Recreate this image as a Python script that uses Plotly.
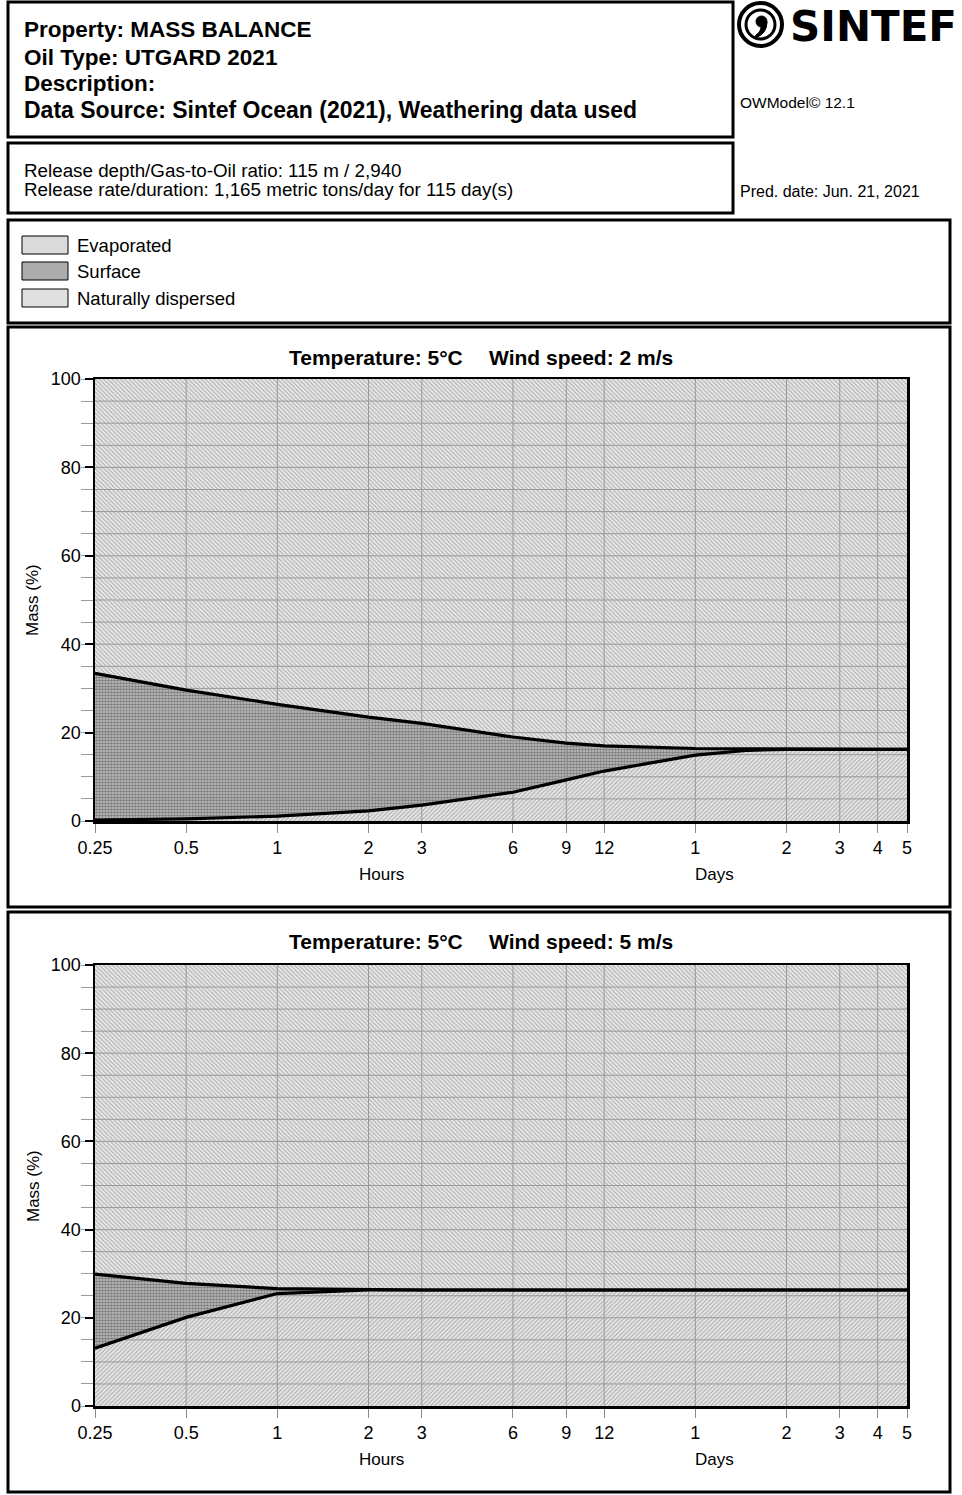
import math
import plotly.graph_objects as go

W, H = 962, 1495
FONT = "Liberation Sans, Arial, sans-serif"

# ---------------- data ----------------
time_hours = [0.25, 0.5, 1, 2, 3, 6, 9, 12, 24, 36, 48, 72, 96, 120]
x_tickvals = [0.25, 0.5, 1, 2, 3, 6, 9, 12, 24, 48, 72, 96, 120]
x_ticktext = ["0.25", "0.5", "1", "2", "3", "6", "9", "12", "1", "2", "3", "4", "5"]
y_tickvals = [0, 20, 40, 60, 80, 100]

# Temperature 5 C, wind 2 m/s
evaporated_w2 = [0.2, 0.5, 1.1, 2.3, 3.6, 6.5, 9.3, 11.3, 14.9, 16.0, 16.2, 16.2, 16.2, 16.2]
surface_w2 = [33.2, 29.1, 25.3, 21.2, 18.5, 12.5, 8.3, 5.7, 1.5, 0.3, 0.0, 0.0, 0.0, 0.0]
# Temperature 5 C, wind 5 m/s
evaporated_w5 = [13.1, 20.1, 25.5, 26.3, 26.3, 26.3, 26.3, 26.3, 26.3, 26.3, 26.3, 26.3, 26.3, 26.3]
surface_w5 = [16.8, 7.7, 1.1, 0.0, 0.0, 0.0, 0.0, 0.0, 0.0, 0.0, 0.0, 0.0, 0.0, 0.0]

series_names = ["Evaporated", "Surface", "Naturally dispersed"]
chart_titles = [("Temperature: 5°C", "Wind speed: 2 m/s"), ("Temperature: 5°C", "Wind speed: 5 m/s")]


def px(x):
    return x / W


def py(y):
    return 1 - y / H


fig = go.Figure()

pat_evap = dict(shape="/", size=3, solidity=0.3, fgcolor="#a4a4a4", bgcolor="#e6e6e6")
pat_surf = dict(shape=".", size=3, solidity=0.6, fgcolor="#7c7c7c", bgcolor="#c8c8c8")
pat_disp = dict(shape="\\", size=3, solidity=0.3, fgcolor="#a4a4a4", bgcolor="#e8e8e8")

panels = [("x", "y", evaporated_w2, surface_w2), ("x2", "y2", evaporated_w5, surface_w5)]
for xa, ya, evap, surf in panels:
    disp = [100 - e - s for e, s in zip(evap, surf)]
    for name, vals, pat in zip(series_names, [evap, surf, disp], [pat_evap, pat_surf, pat_disp]):
        fig.add_trace(go.Scatter(
            x=time_hours, y=vals, name=name, stackgroup="s" + xa, mode="lines",
            line=dict(width=0, color="rgba(0,0,0,0)"), fillpattern=pat,
            fillcolor=pat["bgcolor"], xaxis=xa, yaxis=ya, showlegend=False, hoverinfo="skip"))
    # grid lines drawn above the fills
    gx, gy = [], []
    for v in x_tickvals[1:-1]:
        gx += [v, v, None]
        gy += [0, 100, None]
    for v in range(5, 100, 5):
        gx += [x_tickvals[0], x_tickvals[-1], None]
        gy += [v, v, None]
    fig.add_trace(go.Scatter(x=gx, y=gy, mode="lines", line=dict(color="#999999", width=1),
                             xaxis=xa, yaxis=ya, showlegend=False, hoverinfo="skip"))
    # boundary lines
    upper = [e + s for e, s in zip(evap, surf)]
    for vals in (evap, upper):
        fig.add_trace(go.Scatter(x=time_hours, y=vals, mode="lines",
                                 line=dict(color="black", width=3.2),
                                 xaxis=xa, yaxis=ya, showlegend=False, hoverinfo="skip"))

xrange_log = [math.log10(x_tickvals[0]), math.log10(x_tickvals[-1])]


def xaxis_cfg(anchor):
    return dict(type="log", range=xrange_log, domain=[px(95), px(907)], anchor=anchor,
                tickmode="array", tickvals=x_tickvals, ticktext=x_ticktext,
                ticks="outside", ticklen=9, tickcolor="#8c8c8c", tickwidth=1,
                showgrid=False, zeroline=False, showline=True, linecolor="black", linewidth=2.5,
                mirror=True, layer="above traces", automargin=False,
                tickfont=dict(size=18, color="black", family=FONT))


def yaxis_cfg(domain, anchor):
    return dict(range=[0, 100], domain=domain, anchor=anchor, tickmode="array", tickvals=y_tickvals,
                ticks="outside", ticklen=8, tickwidth=2, tickcolor="black",
                minor=dict(dtick=5, ticks="outside", ticklen=12, tickcolor="#9c9c9c", tickwidth=1,
                           showgrid=False),
                showgrid=False, zeroline=False, showline=True, linecolor="black", linewidth=2.5,
                mirror=True, layer="above traces", automargin=False,
                tickfont=dict(size=18, color="black", family=FONT))


fig.update_layout(
    template="none",
    width=W, height=H, autosize=False,
    margin=dict(l=0, r=0, t=0, b=0, pad=0, autoexpand=False),
    paper_bgcolor="white", plot_bgcolor="white",
    font=dict(family=FONT, color="black"),
    xaxis=xaxis_cfg("y"),
    yaxis=yaxis_cfg([py(821), py(379)], "x"),
    xaxis2=xaxis_cfg("y2"),
    yaxis2=yaxis_cfg([py(1406), py(965)], "x2"),
)

shapes = []


def box(x0, y0, x1, y1, lw=3, fill="rgba(0,0,0,0)"):
    shapes.append(dict(type="rect", xref="paper", yref="paper", x0=px(x0), x1=px(x1),
                       y0=py(y1), y1=py(y0), line=dict(color="black", width=lw), fillcolor=fill))


box(8, 2, 733, 137)
box(8, 143, 733, 213)
box(8, 220, 950, 323)
box(8, 327, 950, 907)
box(8, 912, 950, 1492)

# legend swatches
legend_cols = ["#dadada", "#acacac", "#e0e0e0"]
legend_rows = [245, 271, 298]
for c, yc in zip(legend_cols, legend_rows):
    box(22, yc - 9, 68, yc + 9, lw=1, fill=c)

# logo
shapes.append(dict(type="circle", xref="paper", yref="paper", x0=px(739), x1=px(782),
                   y0=py(46), y1=py(3), line=dict(color="black", width=4)))
shapes.append(dict(type="circle", xref="paper", yref="paper", x0=px(746), x1=px(775),
                   y0=py(39), y1=py(10), line=dict(color="black", width=3)))
shapes.append(dict(type="circle", xref="paper", yref="paper", x0=px(756), x1=px(767),
                   y0=py(27), y1=py(16), line=dict(color="black", width=1), fillcolor="black"))
shapes.append(dict(type="path", xref="paper", yref="paper",
                   path="M %f %f Q %f %f %f %f L %f %f Q %f %f %f %f Z" % (
                       px(767), py(22), px(767), py(34), px(755), py(38),
                       px(756), py(35), px(762), py(31), px(761), py(24)),
                   line=dict(color="black", width=1), fillcolor="black"))
fig.update_layout(shapes=shapes)

ann = []


def text(x, y, s, size, bold=False, anchor="left", family=FONT, angle=0):
    ann.append(dict(x=px(x), y=py(y), xref="paper", yref="paper", text=s, showarrow=False,
                    xanchor=anchor, yanchor="middle", textangle=angle,
                    font=dict(size=size, family=family, color="black",
                              weight="bold" if bold else "normal")))


text(22, 30, "Property: MASS BALANCE", 22.5, True)
text(22, 57, "Oil Type: UTGARD 2021", 22.5, True)
text(22, 83, "Description:", 22.5, True)
text(22, 110, "Data Source: Sintef Ocean (2021), Weathering data used", 23, True)
text(22, 170, "Release depth/Gas-to-Oil ratio: 115 m / 2,940", 18.8)
text(22, 189, "Release rate/duration: 1,165 metric tons/day for 115 day(s)", 18.8)
text(738, 102, "OWModel© 12.1", 15.5)
text(738, 191, "Pred. date: Jun. 21, 2021", 16)
text(788, 26, "SINTEF", 42, True, family="DejaVu Sans, sans-serif")

for name, yc in zip(series_names, legend_rows):
    text(75, yc, name, 18.5)

for (t1, t2), ty, ax_y in zip(chart_titles, [357, 942], [874, 1459]):
    text(287, ty, t1, 21, True)
    text(487, ty, t2, 21, True)
    text(381, ax_y, "Hours", 17, anchor="center")
    text(714, ax_y, "Days", 17, anchor="center")

text(33, 600, "Mass (%)", 17, anchor="center", angle=-90)
text(33, 1186, "Mass (%)", 17, anchor="center", angle=-90)

fig.update_layout(annotations=ann)

fig.write_html("out.html", config={"displayModeBar": False, "staticPlot": True},
               post_script="document.body.style.margin='0';document.body.style.overflow='hidden';")
